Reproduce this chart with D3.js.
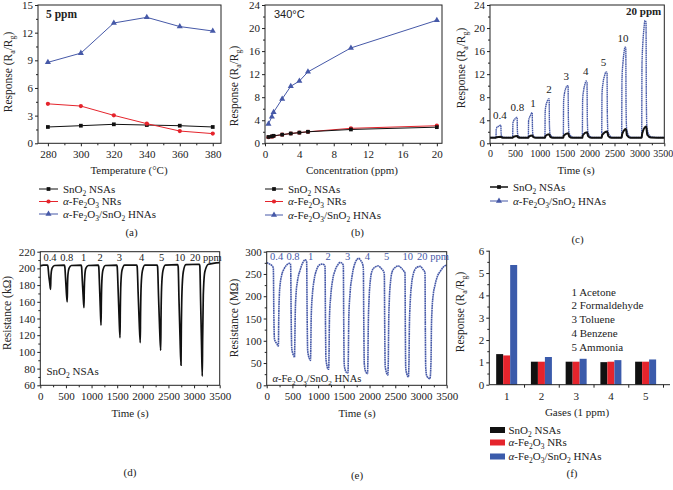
<!DOCTYPE html>
<html><head><meta charset="utf-8">
<script src="https://cdn.jsdelivr.net/npm/d3@7"></script>
<style>
body{margin:0;background:#fff}
svg{display:block}
text{font-family:"Liberation Serif","Times New Roman",serif;fill:#222}
</style>
</head><body>
<svg id="chart" width="673" height="490"></svg>
<script>
// ---------------- DATA ----------------
// (a) response vs temperature at 5 ppm
const tempX = [280, 300, 320, 340, 360, 380];
const tempSnO2 = [1.77, 1.91, 2.06, 1.98, 1.91, 1.77];
const tempFe2O3 = [4.28, 4.04, 3.03, 2.13, 1.33, 1.05];
const tempHNAs = [8.78, 9.78, 13.05, 13.66, 12.66, 12.18];
// (b) response vs concentration at 340 °C
const concX = [0.4, 0.8, 1, 2, 3, 4, 5, 10, 20];
const concSnO2 = [1.1, 1.2, 1.3, 1.5, 1.7, 1.85, 2.0, 2.4, 2.8];
const concFe2O3 = [1.05, 1.15, 1.25, 1.5, 1.7, 1.85, 2.0, 2.6, 3.05];
const concHNAs = [3.35, 4.6, 5.4, 7.7, 9.9, 10.8, 12.4, 16.55, 21.35];
// pulse labels
const pulseLabels = ["0.4", "0.8", "1", "2", "3", "4", "5", "10", "20 ppm"];
// (c) dynamic response [time s, Ra/Rg]
const cHNAs = [[0,1.0],[115,1.0],
 [120,1.1],[125,2.4],[135,2.7],[160,2.9],[190,3.05],[205,3.15],[218,3.1],[223,1.8],[232,1.3],[260,1.1],[320,1.0],
 [450,1.0],[455,1.1],[460,3.5],[475,3.9],[500,4.2],[530,4.5],[545,4.5],[550,2.2],[560,1.4],[590,1.1],[650,1.0],
 [765,1.0],[770,1.1],[775,3.9],[790,4.4],[815,4.9],[840,5.3],[848,5.3],[853,2.5],[863,1.5],[895,1.1],[950,1.0],
 [1098,1.0],[1103,1.1],[1108,5.5],[1125,6.6],[1150,7.3],[1175,7.7],[1188,7.7],[1193,3.4],[1203,1.8],[1235,1.2],[1300,1.0],
 [1468,1.0],[1472,1.1],[1478,7.2],[1495,8.6],[1520,9.5],[1550,10.0],[1568,9.9],[1574,4.2],[1585,2.0],[1620,1.3],[1690,1.0],
 [1850,1.0],[1854,1.1],[1860,7.5],[1880,9.2],[1905,10.2],[1930,10.8],[1948,10.6],[1954,4.5],[1965,2.0],[2000,1.3],[2070,1.0],
 [2238,1.0],[2243,1.1],[2249,8.5],[2270,10.5],[2300,11.7],[2330,12.4],[2350,12.3],[2356,5.0],[2367,2.2],[2400,1.4],[2470,1.0],
 [2640,1.0],[2644,1.1],[2650,11.0],[2670,14.0],[2690,15.7],[2712,16.7],[2727,16.5],[2732,6.5],[2743,2.6],[2780,1.4],[2850,1.0],
 [3042,1.0],[3046,1.1],[3052,13.5],[3070,17.5],[3090,19.8],[3112,21.3],[3133,21.0],[3139,8.0],[3150,3.0],[3190,1.5],[3260,1.05],[3500,1.0]];
const cSnO2 = [[0,0.95],[120,0.95],[130,1.05],[220,1.15],[235,1.0],[280,0.95],
 [455,0.95],[465,1.1],[548,1.25],[565,1.05],[610,0.95],
 [770,0.95],[780,1.15],[850,1.35],[868,1.1],[915,0.95],
 [1103,0.95],[1113,1.25],[1190,1.55],[1208,1.15],[1260,0.97],
 [1472,0.95],[1482,1.35],[1570,1.75],[1590,1.2],[1650,0.97],
 [1854,0.95],[1864,1.4],[1950,1.9],[1970,1.25],[2030,0.97],
 [2243,0.95],[2253,1.45],[2353,2.05],[2373,1.3],[2435,0.97],
 [2644,0.95],[2654,1.6],[2730,2.5],[2750,1.4],[2815,0.97],
 [3046,0.95],[3056,1.7],[3136,2.9],[3158,1.5],[3230,1.0],[3500,0.95]];
const cLabelT = [200, 550, 865, 1185, 1530, 1925, 2280, 2670, 3085];
const cLabelV = [3.2, 4.6, 5.4, 7.7, 10.0, 10.9, 12.5, 16.7, 21.3];
// (d) SnO2 resistance [time s, kΩ]
const dRes = [[0,203],[60,204],[140,204],
 [150,202],[165,192],[185,182],[200,175],[206,188],[215,196],[235,201],[280,203.5],
 [468,204],[478,202],[493,188],[510,170],[525,160],[531,180],[540,193],[560,200],[605,203.5],
 [795,204],[805,202],[820,185],[838,165],[852,153],[858,175],[868,191],[888,200],[935,203.5],
 [1130,204],[1140,202],[1155,180],[1172,150],[1185,132],[1191,160],[1201,185],[1222,198],[1270,203.5],
 [1490,204],[1500,202],[1518,175],[1538,140],[1555,117],[1561,150],[1572,182],[1595,198],[1645,204],
 [1880,204],[1890,202],[1908,172],[1930,135],[1950,111],[1956,145],[1968,180],[1992,197],[2040,204],
 [2278,204],[2288,202],[2306,168],[2328,128],[2349,102],[2355,140],[2367,178],[2392,197],[2440,204],
 [2680,204.5],[2690,202],[2706,162],[2727,115],[2745,84],[2751,125],[2764,172],[2790,196],[2840,204.5],
 [3102,205],[3112,203],[3128,160],[3146,108],[3160,71],[3167,115],[3180,168],[3210,196],[3280,205],[3500,207]];
const dLabelT = [189, 515, 847, 1165, 1541, 1978, 2368, 2725, 3230];
// (e) α-Fe2O3/SnO2 resistance [time s, MΩ]
const eRes = [[0,275],[60,272],[120,266],
 [129,262],[140,150],[150,105],[170,98],[200,93],[222,88],[228,90],[233,140],[245,200],[265,230],[291,247],[340,262],[388,270],[440,274],[460,273],
 [466,268],[476,150],[486,85],[505,72],[530,66],[540,63],[546,90],[555,160],[570,203],[600,235],[648,258],[700,275],[746,282],[770,280],
 [777,276],[786,160],[796,80],[815,65],[840,58],[852,56],[858,90],[866,155],[888,203],[920,235],[972,260],[1020,270],[1070,272],[1125,270],
 [1134,266],[1143,140],[1152,60],[1170,45],[1195,36],[1205,36],[1212,70],[1220,150],[1245,200],[1280,235],[1329,258],[1380,270],[1426,276],[1480,272],
 [1490,268],[1498,140],[1506,50],[1525,35],[1560,28],[1580,28],[1588,70],[1596,150],[1620,205],[1660,245],[1720,275],[1790,285],[1830,280],[1870,270],
 [1879,262],[1888,140],[1897,50],[1920,32],[1960,26],[1968,60],[1976,140],[1991,195],[2015,235],[2043,255],[2100,265],[2170,268],[2230,262],[2275,255],
 [2287,250],[2295,130],[2303,45],[2325,30],[2355,23],[2365,60],[2372,140],[2384,190],[2410,235],[2440,255],[2500,265],[2560,268],[2620,263],[2675,255],
 [2689,252],[2696,120],[2703,40],[2725,25],[2755,19],[2767,55],[2774,130],[2790,185],[2820,230],[2851,250],[2920,265],[2990,267],[3040,260],[3072,255],
 [3078,252],[3085,120],[3092,40],[3115,20],[3175,15],[3195,55],[3203,130],[3215,170],[3240,205],[3273,225],[3320,245],[3370,255],[3430,265],[3500,270]];
const eLabelT = [194, 511, 856, 1192, 1575, 1956, 2333, 2742, 3234];
// (f) selectivity at 1 ppm
const gasCats = ["1", "2", "3", "4", "5"];
const gasNames = ["1 Acetone", "2 Formaldehyde", "3 Toluene", "4 Benzene", "5 Ammonia"];
const selSnO2 = [1.37, 1.03, 1.03, 1.01, 1.03];
const selFe2O3 = [1.31, 1.03, 1.03, 1.03, 1.03];
const selHNAs = [5.36, 1.24, 1.16, 1.10, 1.13];

// ---------------- STYLE ----------------
const BLACK = "#111", RED = "#e5242c", BLUE = "#4659a8", BARBLUE = "#3b5bab";
const FS = 11, TFS = 11;
const svg = d3.select("#chart");
svg.append("rect").attr("width", 673).attr("height", 490).attr("fill", "#fff");

function rich(t, s, fs) {
  const re = /(_.)|(α)|([^_α]+)/g; let m, shifted = false;
  const sh = fs * 0.3;
  while ((m = re.exec(s))) {
    if (m[1]) {
      t.append("tspan").attr("font-size", fs * 0.68).attr("dy", shifted ? 0 : sh).text(m[1][1]);
      shifted = true;
    } else {
      const sp = t.append("tspan").attr("dy", shifted ? -sh : 0).text(m[2] || m[3]);
      if (m[2]) sp.attr("font-style", "italic");
      shifted = false;
    }
  }
  return t;
}
function txt(x, y, s, opt = {}) {
  const fs = opt.fs || FS;
  const t = svg.append("text").attr("x", x).attr("y", y).attr("font-size", fs)
    .attr("text-anchor", opt.anchor || "start");
  if (opt.fill) t.style("fill", opt.fill);
  if (opt.weight) t.attr("font-weight", opt.weight);
  if (opt.family) t.style("font-family", opt.family);
  if (opt.rotate) t.attr("transform", `rotate(-90,${x},${y})`);
  return rich(t, s, fs);
}
function clean(g) {
  g.attr("font-family", null).attr("font-size", TFS);
  g.select(".domain").remove();
  g.selectAll(".tick line").attr("stroke", "#222");
  g.selectAll(".tick text").style("fill", "#222");
}
function panel(o) {
  const x = o.x || d3.scaleLinear().domain(o.xDom).range([o.L, o.R]);
  const y = d3.scaleLinear().domain(o.yDom).range([o.B, o.T]);
  const g = svg.append("g");
  let xa = null;
  if (o.xMajor) {
    xa = g.append("g").attr("transform", `translate(0,${o.B})`)
      .call(d3.axisBottom(x).tickValues(o.xMajor).tickSize(3).tickPadding(4).tickFormat(o.xFmt || d3.format("d"))).call(clean);
    g.append("g").attr("transform", `translate(0,${o.B})`)
      .call(d3.axisBottom(x).tickValues(o.xMinor).tickSize(2).tickFormat("")).call(clean);
  }
  g.append("g").attr("transform", `translate(${o.L},0)`)
    .call(d3.axisLeft(y).tickValues(o.yMajor).tickSize(3).tickPadding(2).tickFormat(o.yFmt || d3.format("d"))).call(clean);
  g.append("g").attr("transform", `translate(${o.L},0)`)
    .call(d3.axisLeft(y).tickValues(o.yMinor).tickSize(2).tickFormat("")).call(clean);
  const plot = svg.append("g");
  if (o.box) {
    svg.append("rect").attr("x", o.L).attr("y", o.T).attr("width", o.R - o.L).attr("height", o.B - o.T)
      .attr("fill", "none").attr("stroke", "#222").attr("stroke-width", 1);
  }
  return { x, y, plot, xa };
}
const range = (a, b, s) => d3.range(a, b + s / 2, s);
const SYM = { sq: d3.symbolSquare, circ: d3.symbolCircle, tri: d3.symbolTriangle };
const SYMSIZE = { sq: 14, circ: 14, tri: 16 };
function series(p, xs, ys, color, sym) {
  const pts = xs.map((v, i) => [v, ys[i]]);
  p.plot.append("path").datum(pts).attr("fill", "none").attr("stroke", color).attr("stroke-width", 1)
    .attr("d", d3.line().x(d => p.x(d[0])).y(d => p.y(d[1])));
  p.plot.selectAll(null).data(pts).join("path")
    .attr("d", d3.symbol(SYM[sym], SYMSIZE[sym]))
    .attr("transform", d => `translate(${p.x(d[0])},${p.y(d[1])})`).attr("fill", color);
}
function legend(x0, x1, tx, ys, items) {
  items.forEach((it, i) => {
    svg.append("line").attr("x1", x0).attr("x2", x1).attr("y1", ys[i]).attr("y2", ys[i])
      .attr("stroke", it.color).attr("stroke-width", it.w || 1);
    svg.append("path").attr("d", d3.symbol(SYM[it.sym], SYMSIZE[it.sym]))
      .attr("transform", `translate(${(x0 + x1) / 2},${ys[i]})`).attr("fill", it.color);
    txt(tx, ys[i] + 3.5, it.label);
  });
}
const L_SN = "SnO_2 NSAs", L_FE = "α-Fe_2O_3 NRs", L_HN = "α-Fe_2O_3/SnO_2 HNAs";

// ---------------- (a) ----------------
const pa = panel({ L: 38, R: 221, T: 5, B: 143.3, xDom: [274, 385], yDom: [0, 15],
  xMajor: range(280, 380, 20), xMinor: range(290, 370, 20), yMajor: range(0, 15, 3), yMinor: range(1.5, 13.5, 3), box: true });
series(pa, tempX, tempSnO2, BLACK, "sq");
series(pa, tempX, tempFe2O3, RED, "circ");
series(pa, tempX, tempHNAs, BLUE, "tri");
txt(46, 17.5, "5 ppm", { fs: 11.5, weight: "bold" });
txt(12, 72, "Response (R_a/R_g)", { anchor: "middle", rotate: true, fs: 11.5 });
txt(129, 173.5, "Temperature (°C)", { anchor: "middle" });
legend(39, 58, 63, [189, 201.5, 214], [
  { label: L_SN, color: BLACK, sym: "sq" }, { label: L_FE, color: RED, sym: "circ" }, { label: L_HN, color: BLUE, sym: "tri" }]);
txt(131.5, 235.5, "(a)", { anchor: "middle" });

// ---------------- (b) ----------------
const pb = panel({ L: 265, R: 442, T: 5, B: 143.3, xDom: [0, 20.6], yDom: [0, 24],
  xMajor: range(0, 20, 4), xMinor: range(2, 18, 4), yMajor: range(0, 24, 4), yMinor: range(2, 22, 4), box: true });
series(pb, concX, concFe2O3, RED, "circ");
series(pb, concX, concSnO2, BLACK, "sq");
series(pb, concX, concHNAs, BLUE, "tri");
txt(274, 18, "340°C", { fs: 11, family: "'Liberation Sans',Arial,sans-serif" });
txt(238, 86, "Response (R_a/R_g)", { anchor: "middle", rotate: true, fs: 11.5 });
txt(352, 173.5, "Concentration (ppm)", { anchor: "middle" });
legend(265, 283, 288, [189, 201.5, 215], [
  { label: L_SN, color: BLACK, sym: "sq" }, { label: L_FE, color: RED, sym: "circ" }, { label: L_HN, color: BLUE, sym: "tri" }]);
txt(357.5, 235.5, "(b)", { anchor: "middle" });

// ---------------- (c) ----------------
const pc = panel({ L: 490, R: 664.3, T: 5, B: 143.3, xDom: [0, 3500], yDom: [0, 24],
  xMajor: range(0, 3500, 500), xMinor: range(250, 3250, 500), yMajor: range(0, 24, 4), yMinor: range(2, 22, 4), box: true });
// slightly smaller x tick labels here so the last one stays inside the page
pc.xa.attr("font-size", 10);
pc.xa.selectAll(".tick text").filter(d => d === 3500).attr("x", -1.5);
const lineC = d3.line().x(d => pc.x(d[0])).y(d => pc.y(d[1])).curve(d3.curveMonotoneX);
pc.plot.append("path").datum(cHNAs).attr("fill", "none").attr("stroke", BLUE).attr("stroke-width", 1.4)
  .attr("stroke-dasharray", "1.6 0.5").attr("d", lineC);
pc.plot.append("path").datum(cSnO2).attr("fill", "none").attr("stroke", BLACK).attr("stroke-width", 2).attr("d", lineC);
pulseLabels.forEach((l, i) => {
  txt(pc.x(cLabelT[i]), pc.y(cLabelV[i]) - 5.5, l, { anchor: "middle", weight: i === 8 ? "bold" : null });
});
txt(465, 68, "Response (R_a/R_g)", { anchor: "middle", rotate: true, fs: 11.5 });
txt(576, 173.5, "Time (s)", { anchor: "middle" });
legend(490, 508, 513, [187, 201], [
  { label: L_SN, color: BLACK, sym: "sq", w: 1.5 }, { label: L_HN, color: BLUE, sym: "tri" }]);
txt(577.5, 243, "(c)", { anchor: "middle" });

// ---------------- (d) ----------------
const pd = panel({ L: 40.3, R: 219.7, T: 251.7, B: 385.3, xDom: [0, 3500], yDom: [60, 220],
  xMajor: range(0, 3500, 500), xMinor: range(250, 3250, 500), yMajor: range(60, 220, 20), yMinor: range(70, 210, 20), box: true });
const lineD = d3.line().x(d => pd.x(d[0])).y(d => pd.y(d[1])).curve(d3.curveMonotoneX);
pd.plot.append("path").datum(dRes).attr("fill", "none").attr("stroke", BLACK).attr("stroke-width", 1.7).attr("d", lineD);
pulseLabels.forEach((l, i) => {
  txt(pd.x(dLabelT[i]), 261, l, { anchor: "middle", fs: 10.5 });
});
txt(46.5, 374.5, L_SN, { fs: 11 });
txt(11, 313, "Resistance (kΩ)", { anchor: "middle", rotate: true, fs: 11.5 });
txt(130, 417, "Time (s)", { anchor: "middle" });
txt(130, 475.5, "(d)", { anchor: "middle" });

// ---------------- (e) ----------------
const pe = panel({ L: 266.7, R: 446.7, T: 251.7, B: 385.3, xDom: [0, 3500], yDom: [0, 300],
  xMajor: range(0, 3500, 500), xMinor: range(250, 3250, 500), yMajor: range(0, 300, 50), yMinor: range(25, 275, 50), box: true });
const lineE = d3.line().x(d => pe.x(d[0])).y(d => pe.y(d[1])).curve(d3.curveMonotoneX);
pe.plot.append("path").datum(eRes).attr("fill", "none").attr("stroke", BLUE).attr("stroke-width", 1.6)
  .attr("stroke-dasharray", "1.8 0.5").attr("d", lineE);
pulseLabels.forEach((l, i) => {
  txt(pe.x(eLabelT[i]), 259.5, l, { anchor: "middle", fs: 10.5, fill: BLUE });
});
txt(272.5, 381.5, L_HN, { fs: 10.5 });
txt(238, 318, "Resistance (MΩ)", { anchor: "middle", rotate: true, fs: 11.5 });
txt(357, 417, "Time (s)", { anchor: "middle" });
txt(357, 478.5, "(e)", { anchor: "middle" });

// ---------------- (f) ----------------
const xf = d3.scaleBand().domain(gasCats).range([489.3, 663]);
const pf = panel({ x: xf, L: 489.3, R: 663, T: 250.7, B: 384.7, yDom: [0, 6],
  yMajor: range(0, 6, 1), yMinor: range(0.5, 5.5, 1), box: false });
svg.append("line").attr("x1", 489.3).attr("x2", 670).attr("y1", 384.7).attr("y2", 384.7).attr("stroke", "#222");
svg.append("line").attr("x1", 489.3).attr("x2", 489.3).attr("y1", 250.7).attr("y2", 384.7).attr("stroke", "#222");
svg.append("g").attr("transform", "translate(0,384.7)")
  .call(d3.axisBottom(xf).tickSize(0).tickPadding(8)).call(clean);
const xfEdge = d3.scaleLinear().domain([0, 5]).range([489.3, 663]);
svg.append("g").attr("transform", "translate(0,384.7)")
  .call(d3.axisBottom(xfEdge).tickValues(range(1, 5, 1)).tickSize(3).tickFormat("")).call(clean);
const barW = 7;
[[selSnO2, BLACK], [selFe2O3, RED], [selHNAs, BARBLUE]].forEach(([vals, col], k) => {
  pf.plot.selectAll(null).data(vals).join("rect")
    .attr("x", (d, i) => xf(gasCats[i]) + xf.bandwidth() / 2 - 1.5 * barW + k * barW)
    .attr("width", barW)
    .attr("y", d => pf.y(d)).attr("height", d => pf.y(0) - pf.y(d)).attr("fill", col);
});
gasNames.forEach((n, i) => txt(571.5, 295.5 + i * 13.9, n));
txt(464, 312, "Response (R_a/R_g)", { anchor: "middle", rotate: true, fs: 11.5 });
txt(577, 416, "Gases (1 ppm)", { anchor: "middle" });
[["SnO_2 NSAs", BLACK], ["α-Fe_2O_3 NRs", RED], ["α-Fe_2O_3/SnO_2 HNAs", BARBLUE]].forEach(([l, c], i) => {
  const yy = [430, 442.5, 456.5][i];
  svg.append("rect").attr("x", 490).attr("y", yy - 3).attr("width", 15).attr("height", 6).attr("fill", c);
  txt(508.5, yy + 3.5, l);
});
txt(572, 476.5, "(f)", { anchor: "middle" });
</script>
</body></html>
